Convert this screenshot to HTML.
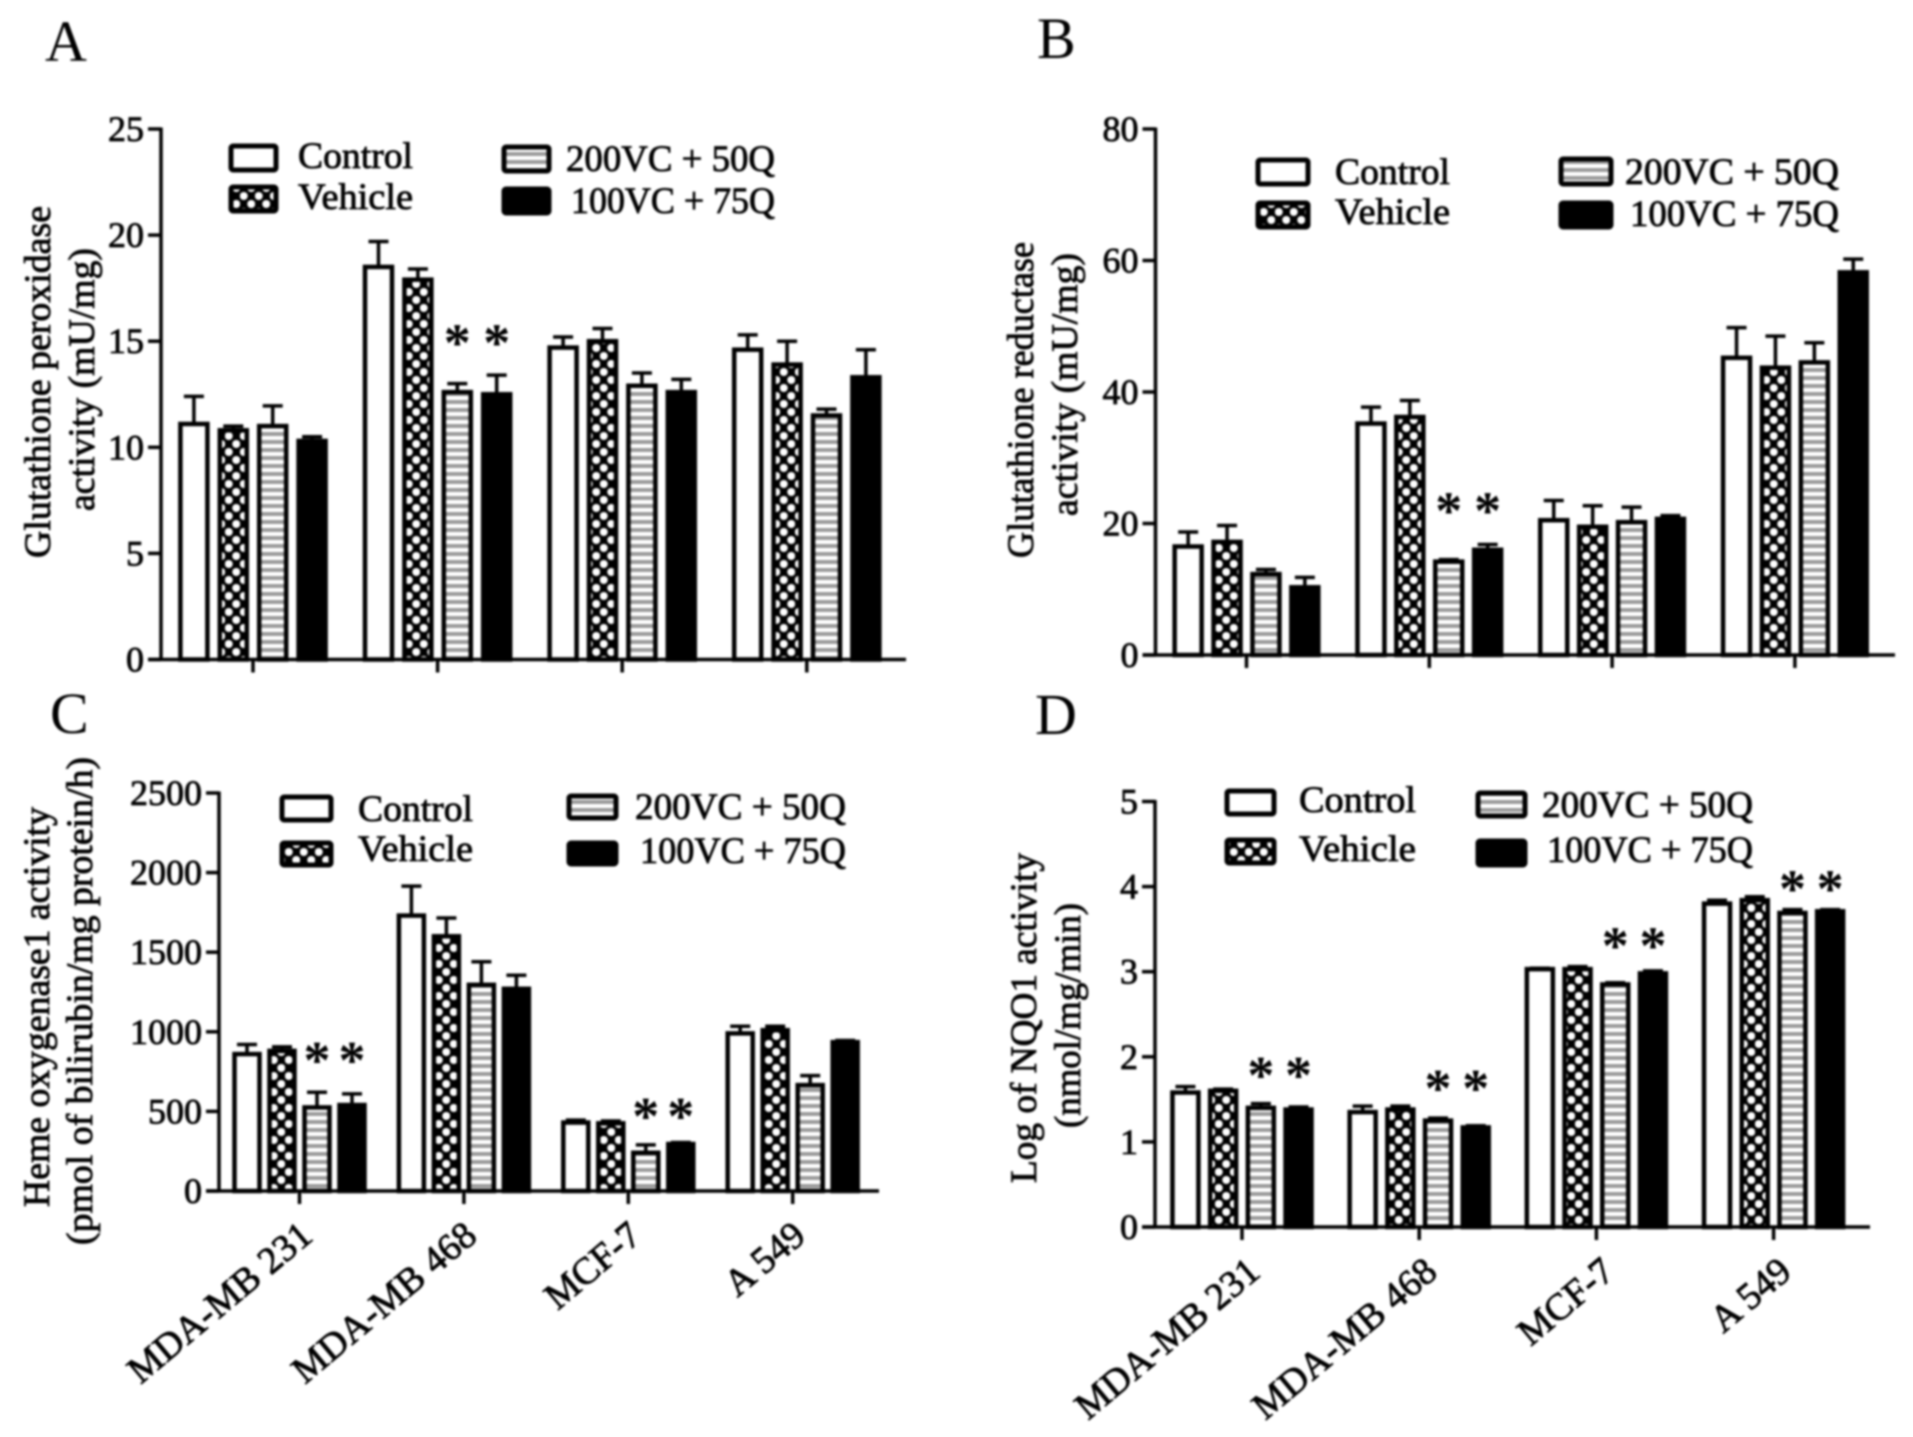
<!DOCTYPE html>
<html lang="en">
<head>
<meta charset="utf-8">
<title>Antioxidant enzyme activity in four cell lines</title>
<style>
html,body{margin:0;padding:0;background:#fff;width:1913px;height:1437px;overflow:hidden}
#figure{display:block;filter:blur(1px)}
text{font-family:"Liberation Serif",serif;fill:#000;stroke:#000;stroke-width:0.8px}
.letter{font-size:58px;stroke-width:0}
.tick{font-size:36px;text-anchor:end}
.title{font-size:37px}
.legend{font-size:37px}
.cat{font-size:38px;text-anchor:end}
.star{font-size:54px;font-weight:bold;text-anchor:middle;stroke-width:0}
</style>
</head>
<body>
<svg id="figure" xmlns="http://www.w3.org/2000/svg" width="1913" height="1437" viewBox="0 0 1913 1437">
<defs>
<pattern id="pat-check" patternUnits="userSpaceOnUse" width="15" height="16">
<rect width="15" height="16" fill="#000"/>
<circle cx="3.75" cy="4" r="4" fill="#fff"/>
<circle cx="11.25" cy="12" r="4" fill="#fff"/>
</pattern>
<pattern id="pat-stripe" patternUnits="userSpaceOnUse" width="8" height="8">
<rect width="8" height="8" fill="#fff"/>
<rect width="8" height="4" fill="#9a9a9a"/>
</pattern>
</defs>
<rect width="1913" height="1437" fill="#fff"/>

<g>
<text class="letter" x="45" y="61">A</text>
<text class="title" transform="translate(50 558) rotate(-90)" textLength="352" lengthAdjust="spacingAndGlyphs">Glutathione  peroxidase</text>
<text class="title" transform="translate(94 511) rotate(-90)" textLength="263" lengthAdjust="spacingAndGlyphs">activity (mU/mg)</text>
<rect x="231" y="146" width="45" height="24" rx="2" fill="#fff" stroke="#000" stroke-width="5"/>
<rect x="231" y="187" width="45" height="24" rx="2" fill="url(#pat-check)" stroke="#000" stroke-width="5"/>
<rect x="504" y="147" width="45" height="24" rx="2" fill="url(#pat-stripe)" stroke="#000" stroke-width="5"/>
<rect x="504" y="189" width="45" height="24" rx="2" fill="#000" stroke="#000" stroke-width="5"/>
<text class="legend" x="298" y="168" textLength="115" lengthAdjust="spacingAndGlyphs">Control</text>
<text class="legend" x="298" y="209" textLength="115" lengthAdjust="spacingAndGlyphs">Vehicle</text>
<text class="legend" x="566" y="171" textLength="209" lengthAdjust="spacingAndGlyphs">200VC + 50Q</text>
<text class="legend" x="571" y="213" textLength="204" lengthAdjust="spacingAndGlyphs">100VC + 75Q</text>
</g>

<g>
<text class="letter" x="1037" y="58">B</text>
<text class="title" transform="translate(1033 558) rotate(-90)" textLength="316" lengthAdjust="spacingAndGlyphs">Glutathione  reductase</text>
<text class="title" transform="translate(1077 516) rotate(-90)" textLength="263" lengthAdjust="spacingAndGlyphs">activity (mU/mg)</text>
<rect x="1258" y="160" width="50" height="24" rx="2" fill="#fff" stroke="#000" stroke-width="5"/>
<rect x="1258" y="203" width="50" height="24" rx="2" fill="url(#pat-check)" stroke="#000" stroke-width="5"/>
<rect x="1561" y="159" width="50" height="25" rx="2" fill="url(#pat-stripe)" stroke="#000" stroke-width="5"/>
<rect x="1561" y="203" width="50" height="24" rx="2" fill="#000" stroke="#000" stroke-width="5"/>
<text class="legend" x="1335" y="184" textLength="115" lengthAdjust="spacingAndGlyphs">Control</text>
<text class="legend" x="1335" y="224" textLength="115" lengthAdjust="spacingAndGlyphs">Vehicle</text>
<text class="legend" x="1625" y="184" textLength="214" lengthAdjust="spacingAndGlyphs">200VC + 50Q</text>
<text class="legend" x="1630" y="226" textLength="209" lengthAdjust="spacingAndGlyphs">100VC + 75Q</text>
</g>

<g>
<text class="letter" x="50" y="733">C</text>
<text class="title" transform="translate(49 1207) rotate(-90)" textLength="400" lengthAdjust="spacingAndGlyphs">Heme oxygenase1  activity</text>
<text class="title" transform="translate(92 1245) rotate(-90)" textLength="488" lengthAdjust="spacingAndGlyphs">(pmol of bilirubin/mg protein/h)</text>
<rect x="282" y="797" width="49" height="23" rx="2" fill="#fff" stroke="#000" stroke-width="5"/>
<rect x="282" y="843" width="49" height="22" rx="2" fill="url(#pat-check)" stroke="#000" stroke-width="5"/>
<rect x="569" y="796" width="47" height="22" rx="2" fill="url(#pat-stripe)" stroke="#000" stroke-width="5"/>
<rect x="569" y="843" width="47" height="21" rx="2" fill="#000" stroke="#000" stroke-width="5"/>
<text class="legend" x="358" y="821" textLength="115" lengthAdjust="spacingAndGlyphs">Control</text>
<text class="legend" x="358" y="861" textLength="115" lengthAdjust="spacingAndGlyphs">Vehicle</text>
<text class="legend" x="635" y="819" textLength="211" lengthAdjust="spacingAndGlyphs">200VC + 50Q</text>
<text class="legend" x="640" y="863" textLength="206" lengthAdjust="spacingAndGlyphs">100VC + 75Q</text>
</g>

<g>
<text class="letter" x="1035" y="734">D</text>
<text class="title" transform="translate(1036 1183) rotate(-90)" textLength="330" lengthAdjust="spacingAndGlyphs">Log of NQO1 activity</text>
<text class="title" transform="translate(1080 1128) rotate(-90)" textLength="225" lengthAdjust="spacingAndGlyphs">(nmol/mg/min)</text>
<rect x="1227" y="791" width="47" height="23" rx="2" fill="#fff" stroke="#000" stroke-width="5"/>
<rect x="1227" y="840" width="47" height="23" rx="2" fill="url(#pat-check)" stroke="#000" stroke-width="5"/>
<rect x="1478" y="793" width="47" height="23" rx="2" fill="url(#pat-stripe)" stroke="#000" stroke-width="5"/>
<rect x="1478" y="841" width="47" height="24" rx="2" fill="#000" stroke="#000" stroke-width="5"/>
<text class="legend" x="1299" y="812" textLength="117" lengthAdjust="spacingAndGlyphs">Control</text>
<text class="legend" x="1299" y="861" textLength="117" lengthAdjust="spacingAndGlyphs">Vehicle</text>
<text class="legend" x="1542" y="817" textLength="211" lengthAdjust="spacingAndGlyphs">200VC + 50Q</text>
<text class="legend" x="1547" y="862" textLength="206" lengthAdjust="spacingAndGlyphs">100VC + 75Q</text>
</g>
</svg>

<script>
// Shared categories and series
var cellLines = ['MDA-MB 231', 'MDA-MB 468', 'MCF-7', 'A 549'];
var seriesKeys = ['control', 'vehicle', '200vc-50q', '100vc-75q'];

// Panel A: glutathione peroxidase (rows = cell lines, columns = series)
var panelATicks = [0, 5, 10, 15, 20, 25];
var panelAMeans = [[11.1, 10.8, 11.0, 10.3], [18.5, 17.9, 12.6, 12.5], [14.7, 15.0, 12.9, 12.6], [14.6, 13.9, 11.5, 13.3]];
var panelAErrors = [[1.3, 0.2, 0.95, 0.2], [1.2, 0.5, 0.4, 0.9], [0.5, 0.6, 0.6, 0.6], [0.7, 1.1, 0.3, 1.3]];
var panelAStarGroups = [1, 1];
var panelAStarSeries = [2, 3];
var panelAStarLevels = [15.2, 15.2];

// Panel B: glutathione reductase
var panelBTicks = [0, 20, 40, 60, 80];
var panelBMeans = [[16.5, 17.2, 12.3, 10.3], [35.2, 36.2, 14.2, 16.0], [20.5, 19.5, 20.2, 20.7], [45.2, 43.7, 44.5, 58.2]];
var panelBErrors = [[2.2, 2.5, 0.7, 1.5], [2.5, 2.5, 0.3, 0.8], [3.0, 3.2, 2.3, 0.5], [4.6, 4.8, 3.0, 2.0]];
var panelBStarGroups = [1, 1];
var panelBStarSeries = [2, 3];
var panelBStarLevels = [22.8, 22.8];

// Panel C: heme oxygenase 1
var panelCTicks = [0, 500, 1000, 1500, 2000, 2500];
var panelCMeans = [[860, 880, 525, 540], [1730, 1600, 1295, 1270], [430, 425, 240, 295], [990, 1010, 665, 935]];
var panelCErrors = [[60, 25, 95, 70], [185, 115, 145, 85], [15, 15, 50, 10], [45, 25, 60, 10]];
var panelCStarGroups = [0, 0, 2, 2];
var panelCStarSeries = [2, 3, 2, 3];
var panelCStarLevels = [856, 856, 506, 506];

// Panel D: log NQO1
var panelDTicks = [0, 1, 2, 3, 4, 5];
var panelDMeans = [[1.58, 1.60, 1.40, 1.38], [1.35, 1.38, 1.25, 1.17], [3.03, 3.03, 2.85, 2.98], [3.80, 3.84, 3.69, 3.71]];
var panelDErrors = [[0.07, 0.02, 0.05, 0.03], [0.07, 0.04, 0.03, 0.02], [0.01, 0.03, 0.02, 0.03], [0.04, 0.04, 0.04, 0.02]];
var panelDStarGroups = [0, 0, 1, 1, 2, 2, 3, 3];
var panelDStarSeries = [2, 3, 2, 3, 2, 3, 2, 3];
var panelDStarLevels = [1.85, 1.85, 1.70, 1.70, 3.37, 3.37, 4.04, 4.04];

var NS = 'http://www.w3.org/2000/svg';
var INK = '#000';
var fills = ['#fff', 'url(#pat-check)', 'url(#pat-stripe)', INK];
var svg = document.getElementById('figure');

function node(parent, tag, attrs, txt) {
  var e = document.createElementNS(NS, tag);
  for (var k in attrs) e.setAttribute(k, attrs[k]);
  if (txt !== undefined) e.textContent = txt;
  parent.appendChild(e);
  return e;
}

function drawPanel(p) {
  var yMax = p.ticks[p.ticks.length - 1];
  function yScale(v) { return p.y0 - (v / yMax) * (p.y0 - p.yTop); }
  function xScale(g, s) { return p.firstGroup + g * p.groupStep + (s - 1.5) * p.barStep; }

  var g = node(svg, 'g', {});
  
  

  // bars and error bars
  p.means.forEach(function (row, gi) {
    row.forEach(function (val, si) {
      var cx = xScale(gi, si);
      var top = yScale(val);
      var errTop = yScale(val + p.errors[gi][si]);
      var stem = node(g, 'line', { x1: cx, x2: cx, y1: top, y2: errTop, stroke: INK, 'stroke-width': 3.5 });
      
      
      var cap = node(g, 'line', { x1: cx - 10, x2: cx + 10, y1: errTop, y2: errTop, stroke: INK, 'stroke-width': 3.5 });
      
      
      var bar = node(g, 'rect', { x: cx - p.barWidth / 2, y: top, width: p.barWidth, height: p.y0 - top, fill: fills[si], stroke: INK, 'stroke-width': 4.5 });
      
      
    });
  });

  // axes
  var yAxis = node(g, 'line', { x1: p.axisX, x2: p.axisX, y1: yScale(yMax) - 1.5, y2: p.y0, stroke: INK, 'stroke-width': 3.5 });
  
  
  var xAxis = node(g, 'line', { x1: p.axisX - 13, x2: p.xEnd, y1: p.y0, y2: p.y0, stroke: INK, 'stroke-width': 3.5 });
  
  

  // y ticks
  p.ticks.forEach(function (t) {
    var y = yScale(t);
    var tickMark = node(g, 'line', { x1: p.axisX - 13, x2: p.axisX, y1: y, y2: y, stroke: INK, 'stroke-width': 3.5 });
    
    
    var label = node(g, 'text', { 'class': 'tick', x: p.axisX - 17, y: y + 12 }, String(t));
    
    
  });

  // x ticks and category labels
  cellLines.forEach(function (name, gi) {
    var x = xScale(gi, 1.5);
    var tickMark = node(g, 'line', { x1: x, x2: x, y1: p.y0, y2: p.y0 + 13, stroke: INK, 'stroke-width': 3.5 });
    
    
    if (p.showCategories) {
      var ax = x + p.labelDx;
      var ay = p.y0 + 48;
      var label = node(g, 'text', { 'class': 'cat', transform: 'translate(' + ax + ' ' + ay + ') rotate(-40)' }, name);
      
      
    }
  });

  // significance stars
  p.starLevels.forEach(function (level, i) {
    var star = node(g, 'text', { 'class': 'star', x: xScale(p.starGroups[i], p.starSeries[i]), y: yScale(level) + 24 }, '*');
    
    
  });
}

drawPanel({ id: 'a', ticks: panelATicks, means: panelAMeans, errors: panelAErrors, starGroups: panelAStarGroups, starSeries: panelAStarSeries, starLevels: panelAStarLevels,
  axisX: 161, xEnd: 906, y0: 659.5, yTop: 129, firstGroup: 253, groupStep: 184.6, barStep: 39.4, barWidth: 27, labelDx: 16, showCategories: false });
drawPanel({ id: 'b', ticks: panelBTicks, means: panelBMeans, errors: panelBErrors, starGroups: panelBStarGroups, starSeries: panelBStarSeries, starLevels: panelBStarLevels,
  axisX: 1155.5, xEnd: 1895, y0: 655, yTop: 129, firstGroup: 1246.5, groupStep: 182.8, barStep: 38.9, barWidth: 27, labelDx: 16, showCategories: false });
drawPanel({ id: 'c', ticks: panelCTicks, means: panelCMeans, errors: panelCErrors, starGroups: panelCStarGroups, starSeries: panelCStarSeries, starLevels: panelCStarLevels,
  axisX: 219, xEnd: 879, y0: 1191, yTop: 793, firstGroup: 299.5, groupStep: 164.4, barStep: 35, barWidth: 25, labelDx: 15, showCategories: true });
drawPanel({ id: 'd', ticks: panelDTicks, means: panelDMeans, errors: panelDErrors, starGroups: panelDStarGroups, starSeries: panelDStarSeries, starLevels: panelDStarLevels,
  axisX: 1155, xEnd: 1870, y0: 1227, yTop: 801.5, firstGroup: 1242, groupStep: 177.2, barStep: 37.7, barWidth: 26, labelDx: 20, showCategories: true });
</script>
</body>
</html>
